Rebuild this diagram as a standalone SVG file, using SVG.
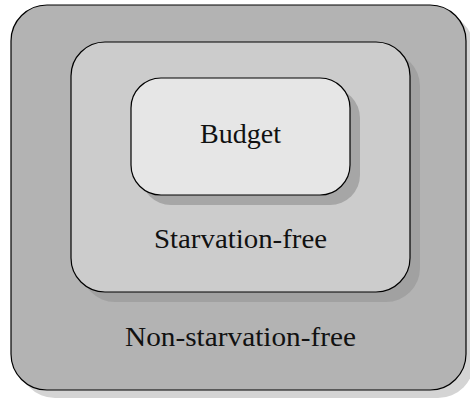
<svg xmlns="http://www.w3.org/2000/svg" width="470" height="401" viewBox="0 0 470 401">
  <style>
    .box { stroke: #000; stroke-width: 1.2; }
    .label { font-family: "Liberation Serif", "DejaVu Serif", serif; font-size: 28px; fill: #111; text-anchor: middle; }
  </style>
  <rect width="470" height="401" fill="#fff"/>
  <!-- outer set -->
  <g id="non-starvation-free">
    <rect x="19" y="13" width="455" height="385" rx="36" fill="#d4d4d4"/>
    <rect class="box" x="11" y="5" width="455" height="385" rx="36" fill="#b3b3b3"/>
    <text class="label" x="240.5" y="345.5" textLength="231" lengthAdjust="spacingAndGlyphs">Non-starvation-free</text>
  </g>
  <!-- middle set -->
  <g id="starvation-free">
    <rect x="81" y="52" width="339" height="250" rx="34" fill="#a1a1a1"/>
    <rect class="box" x="71" y="42" width="339" height="250" rx="34" fill="#cccccc"/>
    <text class="label" x="240.5" y="247.5" textLength="173" lengthAdjust="spacingAndGlyphs">Starvation-free</text>
  </g>
  <!-- inner set -->
  <g id="budget">
    <rect x="141" y="88" width="219" height="117" rx="30" fill="#a6a6a6"/>
    <rect class="box" x="131" y="78" width="219" height="117" rx="30" fill="#e6e6e6"/>
    <text class="label" x="240.5" y="142.5" textLength="81" lengthAdjust="spacingAndGlyphs">Budget</text>
  </g>
</svg>
